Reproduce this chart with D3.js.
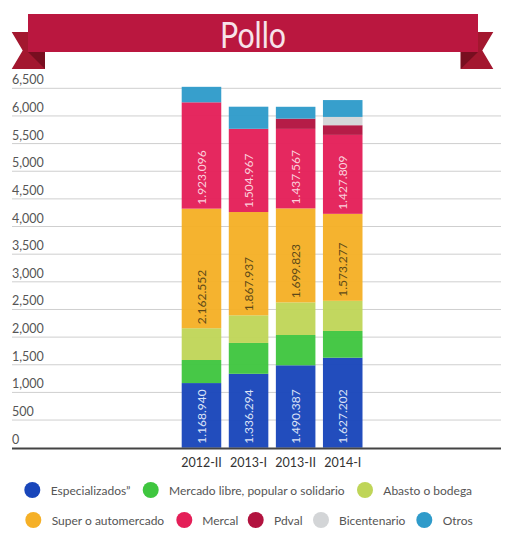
<!DOCTYPE html>
<html><head><meta charset="utf-8">
<script src="https://cdn.jsdelivr.net/npm/d3@7"></script>
<style>body{margin:0;background:#fff;}svg{display:block;font-family:Lato,"Open Sans",sans-serif;}</style>
</head><body>
<svg id="c" width="531" height="558"></svg>
<script>
const title = "Pollo";
const categories = ["2012-II", "2013-I", "2013-II", "2014-I"];
const seriesNames = ["Especializados\u201D", "Mercado libre, popular o solidario", "Abasto o bodega",
  "Super o automercado", "Mercal", "Pdval", "Bicentenario", "Otros"];
const especializados = [1168940, 1336294, 1490387, 1627202];
const mercadoLibre   = [417000, 558000, 548000, 484000];
const abasto         = [575000, 500000, 590000, 545000];
const superAuto      = [2162552, 1867937, 1699823, 1573277];
const mercal         = [1923096, 1504967, 1437567, 1427809];
const pdval          = [0, 0, 185000, 175000];
const bicentenario   = [0, 0, 0, 150000];
const otros          = [280000, 400000, 215000, 305000];
const yTicks = [0,500,1000,1500,2000,2500,3000,3500,4000,4500,5000,5500,6000,6500];

const seriesValues = [especializados, mercadoLibre, abasto, superAuto, mercal, pdval, bicentenario, otros];
const colors = ["#1946ba", "#3fc63f", "#bfd558", "#f5b027", "#e41f58", "#b2133f", "#d3d5d7", "#2f9bca"];
const labeled = {0: "#dbe3f7", 3: "#5e4a18", 4: "#fbd0dc"};

const svg = d3.select("#c");
const y = d3.scaleLinear().domain([0, 6500000]).range([447.7, 88.3]);
const x = d3.scaleBand().domain(categories).range([181.7, 362.5]).paddingInner(0.16).paddingOuter(0);
const fmtLbl = d3.formatLocale({decimal: ",", thousands: ".", grouping: [3], currency: ["", ""]}).format(",");

// Banner
const bn = svg.append("g");
bn.append("polygon").attr("points", "11.7,32 45,32 45,69 11.7,69 22.7,50.5").attr("fill", "#a3172f");
bn.append("polygon").attr("points", "28,52 45,52 45,69").attr("fill", "#780e20");
bn.append("polygon").attr("points", "493.3,32 460.7,32 460.7,69 493.3,69 482.3,50.5").attr("fill", "#a3172f");
bn.append("polygon").attr("points", "478,52 460.7,52 460.7,69").attr("fill", "#780e20");
bn.append("rect").attr("x", 28).attr("y", 14).attr("width", 450).attr("height", 38).attr("fill", "#ba173f");
bn.append("text").attr("x", 253).attr("y", 47.5).attr("text-anchor", "middle")
  .attr("font-size", 37).attr("fill", "#f7e3ea").attr("textLength", 66).attr("lengthAdjust", "spacingAndGlyphs")
  .text(title);

// Grid + y labels
const g = svg.append("g");
yTicks.forEach(t => {
  const yy = y(t * 1000);
  if (t > 0) g.append("line").attr("x1", 12).attr("x2", 501).attr("y1", yy).attr("y2", yy)
    .attr("stroke", "#cfcfcf").attr("stroke-width", 1);
  g.append("text").attr("x", 12).attr("y", yy - 4).attr("font-size", 12.5).attr("fill", "#555")
    .text(d3.format(",")(t));
});

// Stacked bars
const rows = categories.map((c, i) => {
  const o = {cat: c};
  seriesValues.forEach((s, k) => o["s" + k] = s[i]);
  return o;
});
const stack = d3.stack().keys(seriesValues.map((s, k) => "s" + k))(rows);
stack.forEach((layer, k) => {
  const lg = svg.append("g");
  layer.forEach(d => {
    if (d[1] - d[0] <= 0) return;
    lg.append("rect").attr("x", x(d.data.cat)).attr("width", x.bandwidth())
      .attr("y", y(d[1])).attr("height", y(d[0]) - y(d[1]))
      .attr("fill", colors[k]).attr("fill-opacity", 0.96);
  });
});
// labels
stack.forEach((layer, k) => {
  if (!(k in labeled)) return;
  layer.forEach(d => {
    const cx = x(d.data.cat) + x.bandwidth() / 2;
    const by = y(d[0]) - 4;
    svg.append("text").attr("transform", `translate(${cx},${by}) rotate(-90)`)
      .attr("dy", "0.35em").attr("font-size", 12).attr("fill", labeled[k])
      .text(fmtLbl(d[1] - d[0]));
  });
});

// baseline
svg.append("line").attr("x1", 12).attr("x2", 501).attr("y1", 448.5).attr("y2", 448.5)
  .attr("stroke", "#444").attr("stroke-width", 2);

// x axis labels
categories.forEach(c => {
  svg.append("text").attr("x", x(c) + x.bandwidth() / 2).attr("y", 466.5).attr("text-anchor", "middle")
    .attr("font-size", 12.5).attr("fill", "#333").text(c);
});

// Legend
const legendPos = [
  [32.3, 50.7, 490], [150.7, 169, 490], [365, 383.3, 490],
  [33.3, 51.7, 520], [184.3, 202.3, 520], [255.7, 274, 520], [321, 339, 520], [424.3, 442.7, 520]
];
seriesNames.forEach((n, k) => {
  const p = legendPos[k];
  svg.append("circle").attr("cx", p[0]).attr("cy", p[2]).attr("r", 8).attr("fill", colors[k]);
  svg.append("text").attr("x", p[1]).attr("y", p[2] + 4.5).attr("font-size", 12).attr("fill", "#555").text(n);
});
</script>
</body></html>
